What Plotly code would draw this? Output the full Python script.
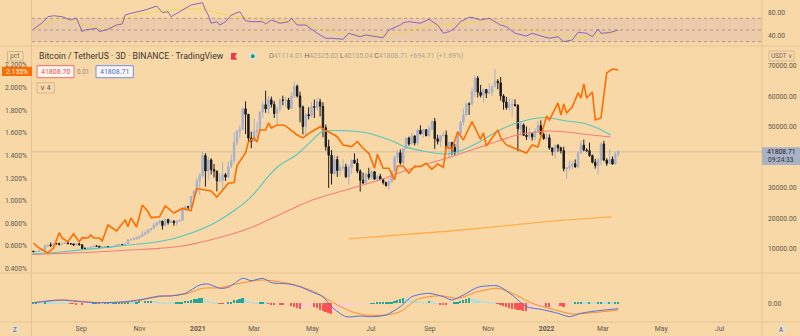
import plotly.graph_objects as go
import pandas as pd

# ---------------- data ----------------
candle_start = "2020-07-13"          # 3-day candles
first_open_k = 9.30
closes_k = [9.13, 9.16, 9.53, 9.55, 11.05, 11.33, 11.08, 11.77, 11.70, 11.55,
            11.85, 11.99, 11.75, 11.65, 11.32, 11.71, 11.40, 10.17, 10.12, 10.33,
            10.67, 10.94, 10.92, 10.52, 10.73, 10.84, 10.57, 10.68, 10.92, 11.30,
            11.43, 11.36, 11.75, 12.99, 13.03, 13.27, 13.80, 14.15, 14.83, 15.30,
            16.30, 16.70, 17.80, 18.68, 19.15, 17.72, 19.70, 18.65, 19.15, 18.55,
            19.14, 19.42, 23.15, 23.83, 23.73, 27.08, 28.89, 32.19, 34.00, 40.60,
            35.50, 39.15, 36.00, 35.50, 32.30, 32.50, 34.30, 33.50, 36.90, 38.90,
            44.85, 48.58, 49.15, 55.90, 54.09, 46.30, 45.24, 48.37, 48.88, 54.88,
            57.23, 55.85, 58.90, 57.35, 54.35, 55.82, 58.80, 58.72, 58.75, 56.00,
            60.00, 63.30, 60.10, 56.50, 50.10, 54.00, 53.60, 56.60, 56.40, 58.20,
            56.70, 49.70, 43.50, 40.70, 34.70, 39.30, 35.70, 36.70, 36.85, 33.60,
            36.70, 39.10, 38.10, 35.50, 32.50, 31.60, 34.50, 33.50, 35.30, 32.90,
            33.80, 32.70, 31.80, 30.80, 32.10, 35.40, 40.00, 41.50, 38.20, 42.90,
            46.30, 44.40, 47.00, 44.70, 48.90, 47.70, 49.00, 47.10, 49.30, 51.80,
            46.10, 45.20, 47.10, 47.30, 43.00, 44.90, 43.20, 41.50, 47.70, 51.50,
            53.90, 57.50, 57.40, 61.50, 65.90, 61.30, 60.30, 62.20, 61.00, 61.40,
            63.30, 64.90, 64.40, 60.10, 58.10, 56.30, 57.10, 57.30, 57.00, 49.40,
            50.60, 47.20, 46.80, 47.70, 46.70, 48.60, 50.40, 47.50, 46.20, 46.40,
            43.10, 41.90, 43.90, 43.10, 42.20, 36.30, 36.70, 37.20, 37.90, 36.90,
            41.40, 44.00, 42.40, 42.20, 40.60, 38.40, 37.30, 39.10, 44.40, 39.10,
            38.00, 39.40, 37.80, 41.11401, 41.80871]
highs_k = [9.34, 9.23, 9.55, 9.68, 11.40, 11.40, 12.12, 11.90, 11.90, 12.08,
           11.98, 12.47, 12.40, 11.80, 11.80, 11.72, 12.05, 11.47, 10.58, 10.48,
           10.70, 11.10, 11.18, 10.95, 10.78, 10.95, 10.95, 10.70, 10.95, 11.48,
           11.72, 11.55, 11.82, 13.22, 13.35, 13.86, 14.10, 14.25, 15.97, 15.97,
           16.48, 16.88, 18.48, 18.80, 19.48, 19.20, 19.92, 19.85, 19.42, 19.36,
           19.42, 19.57, 23.80, 24.30, 24.10, 27.40, 29.30, 33.30, 34.80, 41.95,
           41.35, 40.10, 39.70, 37.85, 35.60, 34.90, 38.50, 34.90, 38.70, 40.95,
           48.20, 48.98, 50.60, 56.37, 58.35, 54.20, 48.40, 52.60, 51.50, 55.00,
           58.10, 61.80, 60.00, 59.90, 58.40, 56.60, 59.40, 60.20, 59.80, 59.50,
           61.30, 64.85, 63.80, 61.50, 57.00, 54.40, 56.40, 58.00, 58.90, 59.50,
           59.20, 58.00, 50.70, 45.80, 42.40, 40.90, 40.40, 37.90, 39.50, 37.90,
           37.50, 39.30, 41.30, 39.60, 36.10, 35.00, 34.80, 36.60, 35.90, 35.40,
           34.20, 34.60, 33.20, 32.00, 32.90, 35.40, 40.60, 42.30, 42.60, 43.00,
           46.50, 46.80, 48.10, 47.20, 49.40, 50.50, 49.30, 49.30, 50.40, 52.00,
           52.90, 47.40, 47.30, 48.50, 48.80, 45.10, 45.00, 44.40, 48.50, 51.90,
           56.00, 58.00, 58.00, 62.90, 66.90, 66.60, 63.70, 62.50, 62.40, 64.30,
           63.30, 69.00, 65.60, 66.30, 60.70, 59.80, 59.40, 59.20, 59.00, 57.40,
           51.90, 51.10, 50.10, 49.50, 48.00, 49.50, 51.90, 52.10, 48.10, 47.90,
           47.50, 43.10, 44.30, 44.40, 43.50, 43.50, 36.80, 38.90, 38.70, 39.30,
           41.90, 45.50, 45.80, 43.00, 44.80, 40.90, 39.50, 39.80, 44.90, 45.40,
           39.70, 42.60, 40.30, 41.70, 42.32502]
lows_k = [9.05, 9.05, 9.12, 9.45, 9.50, 10.60, 10.65, 11.00, 11.55, 11.15,
          11.50, 11.68, 11.62, 11.50, 11.10, 11.15, 11.16, 9.82, 9.88, 9.90,
          10.20, 10.60, 10.73, 10.35, 10.14, 10.66, 10.40, 10.38, 10.52, 10.86,
          11.22, 11.20, 11.25, 11.72, 12.87, 12.88, 13.13, 13.20, 14.10, 14.38,
          15.08, 15.80, 16.55, 17.20, 18.00, 16.33, 17.50, 18.00, 18.50, 17.58,
          17.65, 18.95, 19.30, 22.35, 22.70, 23.40, 26.55, 28.40, 27.70, 33.40,
          30.42, 32.53, 34.40, 33.40, 28.85, 31.90, 29.20, 32.30, 33.40, 36.60,
          38.00, 43.70, 46.30, 48.90, 47.60, 44.90, 43.00, 45.00, 46.30, 48.80,
          53.00, 54.60, 54.10, 56.30, 52.90, 50.40, 54.70, 57.00, 56.50, 55.50,
          55.90, 59.40, 59.60, 51.50, 47.50, 47.00, 52.40, 53.00, 52.90, 55.30,
          53.40, 46.60, 42.20, 30.00, 31.10, 34.30, 33.60, 34.10, 35.60, 33.30,
          31.00, 34.60, 38.00, 34.80, 28.80, 31.30, 31.30, 32.70, 32.70, 32.60,
          32.10, 32.60, 31.10, 30.40, 29.30, 31.70, 35.20, 38.30, 37.60, 37.50,
          42.80, 43.80, 44.20, 43.90, 43.90, 47.50, 46.40, 46.90, 46.70, 48.90,
          42.80, 44.20, 43.40, 46.80, 42.60, 39.60, 40.70, 40.80, 41.40, 47.10,
          50.40, 53.70, 53.90, 56.90, 59.80, 59.60, 59.60, 58.00, 59.40, 60.70,
          60.10, 62.80, 62.30, 58.60, 55.60, 55.60, 55.30, 53.30, 56.60, 42.00,
          47.10, 47.00, 45.70, 46.00, 45.50, 45.60, 48.00, 47.30, 45.70, 45.70,
          42.50, 40.60, 39.60, 41.80, 41.30, 35.40, 32.90, 35.50, 36.20, 36.60,
          36.30, 41.10, 42.00, 41.70, 40.10, 38.00, 36.30, 34.30, 37.50, 38.70,
          37.20, 37.90, 37.60, 37.60, 40.13504]

# moving averages on price (date, thousand USDT)
ma50_dates = ["2020-07-11", "2020-08-12", "2020-09-17", "2020-10-21", "2020-11-22", "2020-12-16",
              "2021-01-21", "2021-02-24", "2021-03-17", "2021-03-28", "2021-04-14", "2021-05-01",
              "2021-05-11", "2021-06-05", "2021-06-26", "2021-07-21", "2021-08-08", "2021-08-29",
              "2021-09-19", "2021-10-05", "2021-10-23", "2021-11-13", "2021-12-01", "2021-12-22",
              "2022-01-04", "2022-01-22", "2022-02-08", "2022-02-23", "2022-03-09"]
ma50_k = [8.35, 9.10, 10.21, 11.29, 12.44, 14.24, 18.92, 26.5, 34.21, 37.48, 40.75, 45.66,
          48.38, 48.71, 48.05, 45.66, 43.27, 41.83, 41.08, 42.39, 45.11, 48.94, 51.23, 52.86,
          52.86, 51.88, 51.23, 49.59, 47.30]
ma100_dates = ["2020-07-11", "2020-08-12", "2020-09-17", "2020-10-21", "2020-11-22", "2020-12-16",
               "2021-01-21", "2021-02-24", "2021-03-17", "2021-05-01", "2021-06-05", "2021-07-10",
               "2021-08-14", "2021-09-19", "2021-10-23", "2021-11-13", "2021-12-01", "2021-12-22",
               "2022-01-04", "2022-01-22", "2022-02-08", "2022-03-09"]
ma100_k = [8.25, 8.58, 9.00, 9.66, 10.21, 10.97, 13.49, 16.76, 19.71, 26.02, 29.30, 32.57,
           36.50, 39.77, 43.27, 45.50, 47.30, 48.28, 48.61, 48.28, 47.63, 46.64]
ma200_dates = ["2021-06-08", "2021-09-22", "2021-11-13", "2022-01-10", "2022-03-10"]
ma200_k = [13.3, 15.9, 17.4, 19.2, 20.5]

# comparison series in percent (candle index, %)
cmp_idx = [0, 2, 5, 7, 9, 10, 12, 14, 16, 17, 19, 20, 21, 23, 24, 26, 29, 32, 33, 34, 36, 38, 40, 41,
           44, 46, 49, 52, 55, 57, 62, 64, 68, 70, 71, 74, 75, 77, 78, 79, 81, 82, 83, 85, 87, 88,
           92, 94, 97, 100, 102, 103, 106, 108, 111, 113, 115, 117, 119, 120, 122, 124, 126, 127,
           129, 131, 133, 135, 137, 139, 141, 143, 144, 146, 148, 150, 153, 156, 157, 158, 162,
           163, 165, 169, 172, 174, 176, 179, 180, 183, 184, 185, 186, 188, 190, 191, 192, 193,
           195, 196, 198, 200, 202, 204]
cmp_pct = [0.627, 0.583, 0.539, 0.583, 0.718, 0.671, 0.639, 0.707, 0.639, 0.674, 0.671, 0.698,
           0.671, 0.671, 0.645, 0.786, 0.733, 0.830, 0.771, 0.848, 0.768, 0.963, 0.904, 0.851,
           0.859, 0.954, 0.892, 0.932, 0.914, 1.108, 1.086, 1.033, 1.154, 1.161, 1.312, 1.422,
           1.519, 1.555, 1.519, 1.625, 1.625, 1.687, 1.643, 1.669, 1.669, 1.661, 1.581, 1.555,
           1.610, 1.654, 1.616, 1.610, 1.566, 1.493, 1.478, 1.522, 1.464, 1.419, 1.287, 1.411,
           1.287, 1.287, 1.184, 1.307, 1.307, 1.243, 1.307, 1.301, 1.331, 1.278, 1.325, 1.296,
           1.478, 1.455, 1.610, 1.537, 1.699, 1.543, 1.599, 1.484, 1.625, 1.555, 1.493, 1.449,
           1.422, 1.493, 1.475, 1.749, 1.714, 1.864, 1.758, 1.855, 1.776, 1.829, 1.952, 1.908,
           2.032, 1.908, 1.961, 1.714, 1.731, 2.129, 2.164, 2.155]

# RSI and its MA (candle index, value)
rsi_idx = [0, 3, 5, 7, 10, 13, 15, 17, 18, 22, 23, 26, 29, 31, 32, 34, 39, 43, 45, 47, 48, 52, 55,
           59, 60, 61, 62, 64, 65, 67, 69, 72, 73, 74, 76, 80, 81, 83, 86, 89, 90, 92, 95, 99, 102,
           104, 108, 110, 114, 116, 118, 122, 124, 127, 128, 129, 131, 135, 138, 141, 143, 145,
           147, 149, 152, 153, 156, 159, 161, 163, 165, 168, 172, 174, 177, 180, 183, 185, 188,
           190, 193, 195, 197, 198, 201, 204]
rsi_vals = [51.2, 62.0, 72.7, 74.4, 72.7, 67.1, 70.5, 47.1, 50.0, 52.9, 47.1, 51.2, 58.5, 60.3,
            75.6, 78.5, 84.2, 91.0, 79.6, 81.3, 72.7, 84.2, 92.7, 96.7, 84.2, 75.6, 61.5, 64.2,
            58.5, 64.2, 75.6, 81.3, 73.9, 65.9, 64.2, 64.2, 60.3, 67.1, 61.5, 64.2, 70.0, 58.5,
            58.5, 44.4, 35.8, 35.8, 34.1, 44.4, 38.5, 41.5, 39.7, 36.8, 50.0, 55.6, 58.5, 62.5,
            64.2, 61.5, 68.3, 58.5, 44.4, 47.1, 52.9, 64.2, 71.7, 71.7, 67.1, 70.0, 64.2, 58.5,
            55.6, 44.4, 39.7, 44.4, 39.7, 35.8, 38.5, 30.0, 32.9, 46.1, 44.4, 38.5, 51.7, 44.4,
            45.4, 50.0]
rsi_ma_idx = [0, 11, 18, 26, 34, 46, 58, 68, 81, 93, 104, 116, 128, 139, 151, 159, 169, 180, 188,
              194, 204]
rsi_ma_vals = [50.0, 70.0, 58.5, 52.9, 72.7, 83.0, 85.4, 75.6, 67.1, 64.2, 47.1, 41.5, 44.4,
               58.5, 60.3, 67.1, 55.6, 44.4, 38.5, 39.7, 47.1]

# MACD (chart units)
macd_idx = [0, 9, 16, 23, 32, 38, 44, 48, 53, 58, 61, 65, 68, 73, 76, 80, 83, 89, 93, 97, 101,
            104, 109, 114, 118, 123, 128, 132, 138, 143, 146, 150, 155, 162, 167, 172, 177, 183,
            187, 191, 197, 204]
macd_vals = [0.6, 3.3, 1.6, 0.6, 1.6, 4.0, 7.3, 7.3, 10.0, 18.3, 19.3, 15.0, 16.0, 25.0, 22.6,
             25.0, 20.6, 19.3, 16.6, 11.6, 6.6, -3.4, -13.4, -12.7, -13.4, -11.7, -3.4, 6.6, 10.0,
             6.6, 3.3, 8.3, 16.0, 17.3, 8.3, -3.4, -6.0, -10.0, -13.4, -10.0, -7.4, -5.4]
signal_idx = [0, 11, 23, 34, 44, 53, 59, 65, 72, 80, 90, 98, 104, 111, 116, 123, 128, 134, 142,
              148, 155, 162, 167, 174, 183, 188, 195, 204]
signal_vals = [0.6, 3.3, 0.6, 1.6, 6.6, 9.3, 15.0, 15.6, 20.0, 23.3, 19.3, 11.6, 1.6, -8.4,
               -11.7, -11.7, -8.4, 4.0, 7.6, 5.0, 11.6, 15.0, 10.0, 0.0, -7.4, -10.7, -9.4, -6.7]
hist_vals = [0.5, 1, 1, 1, 1.5, 1.5, 1, 1, 1, 0.8,
             0.5, 0.3, 0.2, -0.3, -0.5, -0.8, -0.8, -1, -1, -0.5,
             -0.3, 0.2, 0.3, -0.3, -0.3, 0.2, 0.3, 0.2, 0.3, 0.5,
             0.6, 0.8, 1, 1.5, 1.5, 1.5, 1.8, 2, 2, 2.2,
             2.5, 2.7, 2.5, 2, 1.5, 1, 0.8, 0.6, 0.5, 0.5,
             0.6, 0.8, 1.5, 2, 2.5, 3, 4, 4.5, 5, 5.5,
             4.5, 3.5, 2.5, 1.5, 0.5, -0.3, -0.6, -0.3, 0.5, 1.5,
             3, 3.5, 4, 5, 4, 3, 2, 1, 0.5, 1,
             1.5, 0.8, -0.3, -0.8, -1.2, -1, -1.5, -2, -1.5, -1.5,
             -2.5, -3.5, -4.5, -5.5, -4.5, -3.5, -3, -2.5, -3.5, -5,
             -6.5, -8, -9, -10, -10.5, -9, -7, -5.5, -4.5, -3.5,
             -3, -2.5, -2, -1.5, -1.2, -1, -0.6, -0.3, 0.2, 0.3,
             0.5, 0.8, 1, 1.2, 1.5, 1.8, 2, 3, 4, 5,
             4.5, 4, 3.5, 3, 2.5, 2, 1.8, 1.5, 2.5, 2,
             1, 0.3, -1, -1.5, -2, -1.5, -0.5, 0.5, 1.5, 2.5,
             3.5, 4.5, 5, 4.5, 4, 3.5, 3, 2.5, 2, 1.5,
             1, 0.5, -0.5, -1.5, -2.5, -3.5, -4.5, -5.5, -6, -6.5,
             -7, -7.5, -8, -7, -6, -5, -4, -3, -2.5, -3.5,
             -4, -3, -2.5, -2, -3, -3.5, -2.5, -1.5, -0.5, 0.5,
             1, 1.5, 1.2, 1, 1.5, 1.2, 1, 1.3, 1.6, 1.4,
             1.2, 1.4, 1.2, 1.4, 1.6]

# axes / labels
price_ticks = [10000, 20000, 30000, 50000, 60000, 70000]
pct_ticks = [0.4, 0.6, 0.8, 1.0, 1.2, 1.4, 1.6, 1.8, 2.0, 2.2]
rsi_ticks = [40, 80]
month_ticks = ["2020-09-01", "2020-11-01", "2021-01-01", "2021-03-01", "2021-05-01", "2021-07-01",
               "2021-09-01", "2021-11-01", "2022-01-01", "2022-03-01", "2022-05-01", "2022-07-01"]
month_labels = ["Sep", "Nov", "<b>2021</b>", "Mar", "May", "Jul",
                "Sep", "Nov", "<b>2022</b>", "Mar", "May", "Jul"]
last_price = 41808.71
last_pct = 2.155
x_range = ["2020-07-11 12:00", "2022-08-14 12:00"]

# ---------------- derived ----------------
dates = pd.date_range(candle_start, periods=len(closes_k), freq="3D")
close = [c * 1000 for c in closes_k]
opens = [first_open_k * 1000] + close[:-1]
high = [h * 1000 for h in highs_k]
low = [l * 1000 for l in lows_k]

hist_colors = []
for i, v in enumerate(hist_vals):
    prev = hist_vals[i - 1] if i > 0 else 0
    if v >= 0:
        hist_colors.append("#26A69A" if v > prev else "#B2DFDB")
    else:
        hist_colors.append("#FF5252" if v < prev else "#FFCDD2")

BG = "#F8D8A6"
FONT = "Roboto"
AXC = "#5E5A55"
W, H = 800, 336
X0, X1 = 32 / W, 762 / W


def PX(x):
    return x / W


def PY(y):
    return 1 - y / H


fig = go.Figure()

# main pane
fig.add_trace(go.Candlestick(
    x=dates, open=opens, high=high, low=low, close=close,
    increasing=dict(line=dict(color="#A6B0CC", width=1), fillcolor="#A6B0CC"),
    decreasing=dict(line=dict(color="#1B1B1F", width=1), fillcolor="#1B1B1F"),
    whiskerwidth=0, xaxis="x", yaxis="y", hoverinfo="skip"))
fig.add_trace(go.Scatter(x=pd.to_datetime(ma200_dates), y=[v * 1000 for v in ma200_k], mode="lines",
                         line=dict(color="#FFAE4F", width=1.3, shape="spline"), xaxis="x", yaxis="y"))
fig.add_trace(go.Scatter(x=pd.to_datetime(ma100_dates), y=[v * 1000 for v in ma100_k], mode="lines",
                         line=dict(color="#F47E7C", width=1.1, shape="spline", smoothing=0.8),
                         xaxis="x", yaxis="y"))
fig.add_trace(go.Scatter(x=pd.to_datetime(ma50_dates), y=[v * 1000 for v in ma50_k], mode="lines",
                         line=dict(color="#56C8C0", width=1.1, shape="spline", smoothing=0.8),
                         xaxis="x", yaxis="y"))
fig.add_trace(go.Scatter(x=dates[cmp_idx], y=cmp_pct, mode="lines",
                         line=dict(color="#FF6D00", width=1.6), xaxis="x", yaxis="y2"))

# RSI pane
fig.add_trace(go.Scatter(x=dates[rsi_ma_idx], y=rsi_ma_vals, mode="lines",
                         line=dict(color="#F2D65A", width=1, shape="spline"), xaxis="x2", yaxis="y3"))
fig.add_trace(go.Scatter(x=dates[rsi_idx], y=rsi_vals, mode="lines",
                         line=dict(color="#8A63C6", width=1), xaxis="x2", yaxis="y3"))

# MACD pane
fig.add_trace(go.Bar(x=dates, y=hist_vals, marker=dict(color=hist_colors, line=dict(width=0)),
                     width=3 * 24 * 3600 * 1000 * 0.62, xaxis="x3", yaxis="y4"))
fig.add_trace(go.Scatter(x=dates[signal_idx], y=signal_vals, mode="lines",
                         line=dict(color="#FF8A2A", width=1, shape="spline", smoothing=0.7),
                         xaxis="x3", yaxis="y4"))
fig.add_trace(go.Scatter(x=dates[macd_idx], y=macd_vals, mode="lines",
                         line=dict(color="#4F6FE8", width=1, shape="spline", smoothing=0.7),
                         xaxis="x3", yaxis="y4"))

tickfont = dict(family=FONT, size=6.8, color=AXC)
xcommon = dict(domain=[X0, X1], range=x_range, showgrid=False, zeroline=False, showline=False,
               type="date")
fig.update_layout(
    width=W, height=H, margin=dict(l=0, r=0, t=0, b=0),
    paper_bgcolor=BG, plot_bgcolor=BG, showlegend=False, bargap=0,
    xaxis=dict(**xcommon, anchor="y", showticklabels=False, rangeslider=dict(visible=False)),
    xaxis2=dict(**xcommon, anchor="y3", matches="x", showticklabels=False),
    xaxis3=dict(**xcommon, anchor="y4", matches="x", tickvals=month_ticks, ticktext=month_labels,
                tickfont=tickfont, ticks="", ticklabelstandoff=1),
    yaxis=dict(domain=[PY(273), PY(46)], range=[2144, 76448], side="right", anchor="x",
               tickvals=price_ticks, ticktext=["%.2f" % t for t in price_ticks],
               tickfont=tickfont, showgrid=False, zeroline=False, ticks="", ticklabelstandoff=5),
    yaxis2=dict(overlaying="y", side="left", anchor="x", range=[0.362, 2.367],
                tickvals=pct_ticks, ticktext=["%.3f%%" % t for t in pct_ticks],
                tickfont=tickfont, showgrid=False, zeroline=False, ticks="", ticklabelstandoff=4),
    yaxis3=dict(domain=[PY(46), 1], range=[22.6, 101.3], side="right", anchor="x2",
                tickvals=rsi_ticks, ticktext=["%.2f" % t for t in rsi_ticks],
                tickfont=tickfont, showgrid=False, zeroline=False, ticks="", ticklabelstandoff=5),
    yaxis4=dict(domain=[PY(322), PY(273)], range=[-18.7, 30.3], side="right", anchor="x3",
                tickvals=[0], ticktext=["0.00"],
                tickfont=tickfont, showgrid=False, zeroline=False, ticks="", ticklabelstandoff=5),
)

shapes = []
# RSI band and levels
shapes.append(dict(type="rect", xref="paper", yref="y3", x0=X0, x1=X1, y0=30, y1=70,
                   fillcolor="rgba(126,87,194,0.10)", line=dict(width=0), layer="below"))
for lvl in (70, 50, 30):
    shapes.append(dict(type="line", xref="paper", yref="y3", x0=X0, x1=X1, y0=lvl, y1=lvl,
                       line=dict(color="rgba(120,110,125,0.55)", width=1, dash="3px,3px")))
# last price line
shapes.append(dict(type="line", xref="paper", yref="y", x0=X0, x1=X1, y0=last_price, y1=last_price,
                   line=dict(color="rgba(130,125,130,0.28)", width=1), layer="below"))
# pane separators
SEP = "#E3C593"
for yy in (46, 273, 322):
    shapes.append(dict(type="line", xref="paper", yref="paper", x0=0, x1=1, y0=PY(yy), y1=PY(yy),
                       line=dict(color=SEP, width=1)))
for xx in (31.5, 762):
    shapes.append(dict(type="line", xref="paper", yref="paper", x0=PX(xx), x1=PX(xx), y0=0, y1=1,
                       line=dict(color=SEP, width=1)))


def box(x0, y0, x1, y1, fill, line_color, lw=1):
    shapes.append(dict(type="rect", xref="paper", yref="paper", x0=PX(x0), x1=PX(x1),
                       y0=PY(y1), y1=PY(y0), fillcolor=fill,
                       line=dict(color=line_color, width=lw)))


box(7.5, 51.5, 23, 61, "rgba(0,0,0,0)", "rgba(120,100,80,0.30)")          # pct
box(2, 66.8, 32, 76, "#FF6D00", "#FF6D00", 0)                              # 2.155%
box(37, 65.7, 74, 77.7, "rgba(255,255,255,0.80)", "#F26B72")               # bid
box(96, 65.7, 133.3, 77.7, "rgba(255,255,255,0.80)", "#6F8FF0")            # ask
box(37, 82.7, 54.5, 93, "rgba(0,0,0,0)", "rgba(120,100,80,0.25)")          # v 4
box(769, 51, 794, 61, "rgba(0,0,0,0)", "rgba(120,100,80,0.25)")            # USDT
box(762, 147.3, 800, 165, "#A9B1C7", "#A9B1C7", 0)                         # price label
box(231, 53, 237, 59.7, "#F23645", "#F23645", 0)                           # flag
shapes.append(dict(type="path", xref="paper", yref="paper",
                   path="M %f %f L %f %f L %f %f Z" % (PX(237.2), PY(53), PX(235), PY(56.3),
                                                       PX(237.2), PY(59.7)),
                   fillcolor=BG, line=dict(width=0)))


def circle(cx, cy, r, fill, line_color="rgba(0,0,0,0)"):
    shapes.append(dict(type="circle", xref="paper", yref="paper", x0=PX(cx - r), x1=PX(cx + r),
                       y0=PY(cy + r), y1=PY(cy - r), fillcolor=fill,
                       line=dict(color=line_color, width=1)))


circle(252.8, 56.2, 4.3, "#E6DDD0")
circle(252.8, 56.2, 1.9, "#089981")
circle(15.3, 329.6, 4.6, "#E8DDD0")
circle(781.7, 329.4, 4.6, "#E8DDD0")
fig.update_layout(shapes=shapes)

ann = []


def text(x, y, s, size=7, color="#555", anchor="center"):
    ann.append(dict(xref="paper", yref="paper", x=PX(x), y=PY(y), text=s, showarrow=False,
                    xanchor=anchor, yanchor="middle",
                    font=dict(family=FONT, size=size, color=color)))


text(15.3, 56.4, "pct", 6.8, "#77726C")
text(36.5, 56.3, "Bitcoin / TetherUS · 3D · BINANCE · TradingView", 8.7, "#3A3835", "left")
ohlc = ("<span style='color:#6E6A66'>O</span>41114.01 "
        "<span style='color:#6E6A66'>H</span>42325.02 "
        "<span style='color:#6E6A66'>L</span>40135.04 "
        "<span style='color:#6E6A66'>C</span>41808.71 +694.71 (+1.69%)")
text(266.5, 56.5, ohlc, 6.9, "#ABA49A", "left")
text(55.5, 71.8, "41808.70", 7, "#EE4B55")
text(83.3, 71.8, "0.01", 6.3, "#8C8680")
text(114.7, 71.8, "41808.71", 7, "#3D6CEB")
text(45.7, 88, "∨ 4", 6.8, "#5A5652")
text(17, 71.5, "%.3f%%" % last_pct, 6.8, "#FFFFFF")
text(781.5, 56.2, "USDT ∨", 6.3, "#6E6A66")
text(781, 152.3, "%.2f" % last_price, 6.8, "#1E222D")
text(781, 160.4, "09:24:33", 6.6, "#2E323D")
text(15.3, 329.8, "Z", 6.3, "#555")
text(781.7, 329.6, "A", 6.3, "#555")
fig.update_layout(annotations=ann)

fig.write_html("out.html")
